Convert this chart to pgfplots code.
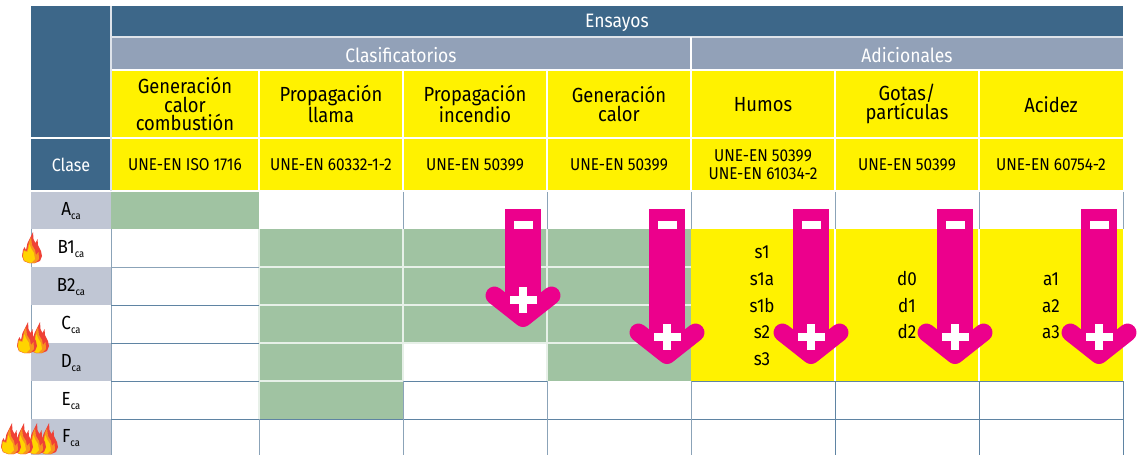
\documentclass[border=0pt]{standalone}
\usepackage{pgfplots}
\pgfplotsset{compat=1.18}
\usepackage{fontspec}
\setmainfont[FakeStretch=0.9]{Fira Sans}
\definecolor{dblue}{HTML}{3D6789}
\definecolor{slate}{HTML}{92A1B8}
\definecolor{yel}{HTML}{FFF200}
\definecolor{grn}{HTML}{A0C3A2}
\definecolor{gry}{HTML}{C0C6D4}
\definecolor{mag}{HTML}{EC008C}
\definecolor{lin}{HTML}{8BA3B8}
\definecolor{dlin}{HTML}{5F84A3}
\definecolor{fred}{HTML}{EF4136}
\definecolor{forg}{HTML}{F7941E}
\definecolor{fyel}{HTML}{FFD400}
\newcommand{\cell}[5]{\addplot[fill=#5,draw=none] coordinates {(#1,#2)(#3,#2)(#3,#4)(#1,#4)} --cycle;}
\newcommand{\seg}[5]{\addplot[draw=#5,line width=0.9pt] coordinates {(#1,#2)(#3,#4)};}
\newcommand{\seglight}[5]{\addplot[draw=#5,line width=1.2pt] coordinates {(#1,#2)(#3,#4)};}
% text helpers
\newcommand{\hd}[3]{\node[align=center,inner sep=0pt,font=\fontsize{20.5}{18.5}\selectfont,text=black] at (axis cs:#1,#2) {#3};}
\newcommand{\std}[3]{\node[align=center,inner sep=0pt,font=\fontsize{17.2}{18}\selectfont,text=black] at (axis cs:#1,#2) {#3};}
\newcommand{\ttl}[3]{\node[inner sep=0pt,font=\fontsize{19.5}{19.5}\selectfont,text=white] at (axis cs:#1,#2) {#3};}
\newcommand{\cls}[3]{\node[inner sep=0pt,font=\fontsize{19}{19}\selectfont,text=black] at (axis cs:#1,#2) {#3\raisebox{-3.5pt}{\fontsize{10.5}{10.5}\selectfont ca}};}
\newcommand{\val}[3]{\node[inner sep=0pt,font=\fontsize{19}{19}\selectfont,text=black] at (axis cs:#1,#2) {#3};}
% arrow: centre x, tip-centre y
\newcommand{\arrow}[2]{%
 \addplot[fill=mag,draw=none] coordinates {(#1-18,209)(#1+18,209)(#1+18,#2-8)(#1-18,#2-8)} --cycle;
 \addplot[draw=mag,line width=18bp,line cap=round,line join=round,x filter/.expression={x+#1},y filter/.expression={y+#2}] coordinates {(-28.5,-22.5)(0,0)(28.5,-22.5)};
 \addplot[fill=white,draw=none,x filter/.expression={x+#1}] coordinates {(-9.5,221)(9.5,221)(9.5,229)(-9.5,229)} --cycle;
 \addplot[fill=white,draw=none,x filter/.expression={x+#1},y filter/.expression={y+#2}] coordinates {(-13.5,-22)(13.5,-22)(13.5,-14.5)(-13.5,-14.5)} --cycle;
 \addplot[fill=white,draw=none,x filter/.expression={x+#1},y filter/.expression={y+#2}] coordinates {(-4,-31)(4,-31)(4,-5.5)(-4,-5.5)} --cycle;
}
% flame: centre x, bottom y
\newcommand{\flame}[2]{%
 \addplot[fill=fred,draw=none,x filter/.expression={x+#1},y filter/.expression={y+#2}] coordinates {(-3,0)(-8,-2)(-10,-7)(-9,-13)(-7.5,-16)(-6,-13)(-4.5,-20)(-2,-25)(1,-31)(1.5,-24)(3.5,-20)(5.5,-24)(6,-18)(9,-12)(10,-7)(8,-2)(3,0)} --cycle;
 \addplot[fill=forg,draw=none,x filter/.expression={x+#1},y filter/.expression={y+#2}] coordinates {(-3,0)(-8,-2)(-9.5,-7)(-8.5,-13)(-5,-12)(-3,-21)(-1,-26)(0,-18)(3,-13)(4,-8)(6.5,-11)(7,-4)(3,0)} --cycle;
 \addplot[fill=fyel,draw=none,x filter/.expression={x+#1},y filter/.expression={y+#2}] coordinates {(-3,-.5)(-7.5,-2.5)(-9,-7)(-8,-12)(-4.5,-11)(-2.5,-19)(-1,-15)(2,-10)(3,-4)(-.5,-.5)} --cycle;
}
\begin{document}
\begin{tikzpicture}
\begin{axis}[hide axis,scale only axis,width=1141bp,height=455bp,
  xmin=0,xmax=1141,ymin=0,ymax=455,y dir=reverse,clip=false]
% page extent
\cell{0}{0}{1141}{455}{white}
% header blocks
\cell{31}{6}{111}{191}{dblue}
\cell{111}{6}{1123}{37}{dblue}
\cell{111}{37}{691}{70}{slate}
\cell{691}{37}{1123}{70}{slate}
\cell{111}{70}{1123}{191}{yel}
% class column
\cell{31}{191}{111}{229}{gry}
\cell{31}{267}{111}{305}{gry}
\cell{31}{343}{111}{381}{gry}
\cell{31}{419}{111}{455}{gry}
% green results
\cell{111}{191}{259}{229}{grn}
\cell{259}{229}{403}{419}{grn}
\cell{403}{229}{547}{343}{grn}
\cell{547}{229}{691}{381}{grn}
% yellow additional tests
\cell{691}{229}{1123}{381}{yel}
% white separators in header
\seglight{111}{37}{1123}{37}{white!70!slate}
\seglight{111}{70}{1123}{70}{white}
\seglight{31}{138}{1123}{138}{white}
\seglight{31}{191}{1123}{191}{white}
\seglight{111}{6}{111}{191}{white!70!slate}
\seglight{691}{37}{691}{70}{white}
\seglight{259}{70}{259}{191}{white}
\seglight{403}{70}{403}{191}{white}
\seglight{547}{70}{547}{191}{white}
\seglight{691}{70}{691}{191}{white}
\seglight{835}{70}{835}{191}{white}
\seglight{979}{70}{979}{191}{white}
% light lines over green
\seglight{259}{267}{691}{267}{white!75!grn}
\seglight{259}{305}{691}{305}{white!75!grn}
\seglight{259}{343}{691}{343}{white!75!grn}
\seglight{259}{381}{403}{381}{white!75!grn}
\seglight{259}{229}{259}{419}{white!75!grn}
\seglight{403}{229}{403}{381}{white!75!grn}
\seglight{547}{229}{547}{381}{white!75!grn}
\seglight{835}{229}{835}{381}{white}
\seglight{979}{229}{979}{381}{white}
% grid, row A
\seg{403}{192}{403}{229}{lin}
\seg{547}{192}{547}{229}{lin}
\seg{691}{192}{691}{229}{lin}
\seg{835}{192}{835}{229}{lin}
\seg{979}{192}{979}{229}{lin}
\seg{1123}{192}{1123}{229}{lin}
% class column white rows
\seg{31}{229}{31}{267}{lin}
\seg{31}{305}{31}{343}{lin}
\seg{31}{381}{31}{419}{lin}
\seg{111}{229}{111}{455}{lin}
\seg{111}{267}{259}{267}{lin}
\seg{111}{305}{259}{305}{dlin}
\seg{111}{343}{259}{343}{dlin}
\seg{111}{381}{259}{381}{dlin}
\seg{111}{419}{1123}{419}{dlin}
% lower rows
\seg{403}{381}{547}{381}{dlin}
\seg{691}{381}{1123}{381}{dlin}
\seg{259}{419}{259}{455}{lin}
\seg{403}{381}{403}{455}{lin}
\seg{547}{381}{547}{455}{lin}
\seg{691}{381}{691}{455}{lin}
\seg{835}{381}{835}{455}{dlin}
\seg{979}{381}{979}{455}{dlin}
\seg{1123}{381}{1123}{455}{dlin}
% titles
\ttl{617}{23}{Ensayos}
\ttl{401}{55}{Clasificatorios}
\ttl{907}{55}{Adicionales}
\node[inner sep=0pt,font=\fontsize{18}{18}\selectfont,text=white] at (axis cs:71,165) {Clase};
% headers
\hd{185}{104}{Generación\\calor\\combustión}
\hd{331}{104}{Propagación\\llama}
\hd{475}{104}{Propagación\\incendio}
\hd{619}{104}{Generación\\calor}
\hd{763}{105}{Humos}
\hd{907}{104}{Gotas/\\partículas}
\hd{1051}{105}{Acidez}
% standards
\std{185}{165}{UNE-EN ISO 1716}
\std{331}{165}{UNE-EN 60332-1-2}
\std{475}{165}{UNE-EN 50399}
\std{619}{165}{UNE-EN 50399}
\std{763}{165}{UNE-EN 50399\\UNE-EN 61034-2}
\std{907}{165}{UNE-EN 50399}
\std{1051}{165}{UNE-EN 60754-2}
% classes
\cls{71}{211}{A}
\cls{71}{249}{B1}
\cls{71}{287}{B2}
\cls{71}{325}{C}
\cls{71}{363}{D}
\cls{71}{401}{E}
\cls{71}{438}{F}
% values
\val{762}{252}{s1}
\val{762}{279}{s1a}
\val{762}{306}{s1b}
\val{762}{332}{s2}
\val{762}{359}{s3}
\val{907}{279}{d0}
\val{907}{306}{d1}
\val{907}{332}{d2}
\val{1051}{279}{a1}
\val{1051}{306}{a2}
\val{1051}{332}{a3}
% arrows
\arrow{523}{318}
\arrow{667}{355}
\arrow{811}{355}
\arrow{955}{355}
\arrow{1099}{355}
% flames
\flame{32}{263}
\flame{39}{353}
\flame{27}{353}
\flame{48}{454}
\flame{36}{454}
\flame{23}{454}
\flame{11}{454}
\end{axis}
\end{tikzpicture}
\end{document}
